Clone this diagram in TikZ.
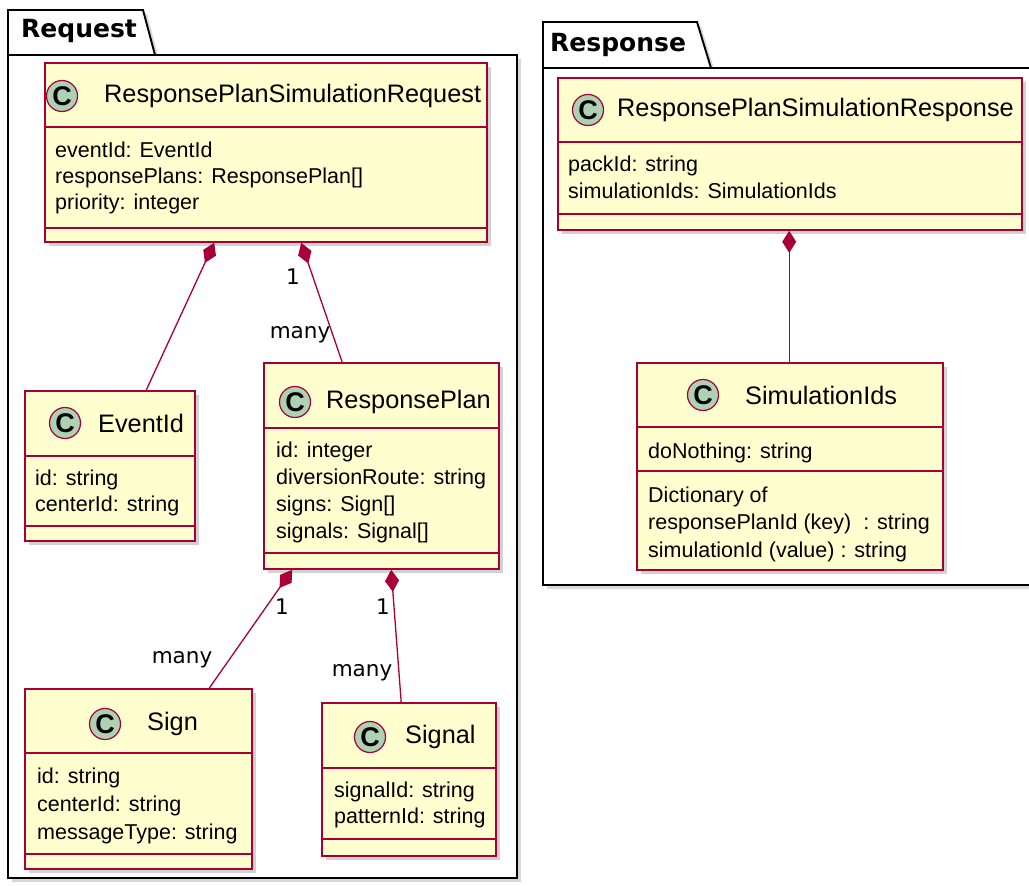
\documentclass[tikz,border=0pt]{standalone}
\usepackage{fontspec}
\setmainfont{Liberation Sans}
\newfontfamily\pkgfont{DejaVu Sans}
\usetikzlibrary{arrows.meta,shadows}

\definecolor{umlred}{HTML}{A80036}
\definecolor{umlfill}{HTML}{FEFECE}
\definecolor{umlcirc}{HTML}{ADD1B2}

\tikzset{
  pkg/.style={draw=black, line width=1.9pt, fill=white,
    drop shadow={shadow xshift=4pt, shadow yshift=-4pt, opacity=0.3, fill=gray}},
  pkglabel/.style={font=\pkgfont\fontsize{25}{25}\selectfont\bfseries, anchor=west, inner sep=0pt},
  classbox/.style={draw=umlred, line width=1.6pt, fill=umlfill, inner sep=0pt,
    drop shadow={shadow xshift=4pt, shadow yshift=-4pt, opacity=0.35, fill=gray}},
  classline/.style={draw=umlred, line width=1.4pt},
  circ/.style={circle, draw=umlred, line width=1.2pt, fill=umlcirc, minimum size=31pt,
    inner sep=0pt, font=\fontsize{27}{27}\selectfont\bfseries},
  ctitle/.style={anchor=west, inner sep=0pt, font=\fontsize{25.3}{25.3}\selectfont},
  attr/.style={anchor=west, inner sep=0pt, text height=14pt, text depth=4pt,
    font=\fontsize{21.5}{21.5}\selectfont},
  comp/.style={draw=umlred, line width=1.3pt,
    {Diamond[length=22pt,width=14pt,fill=umlred,umlred]}-},
  mult/.style={inner sep=0pt, font=\pkgfont\fontsize{21.5}{21.5}\selectfont},
}

% class box: name, x1, y1, x2, y2, first separator, second separator
\newcommand\umlclass[7]{%
  \node[classbox, minimum width={(#4-#2)*1pt}, minimum height={(#5-#3)*1pt}]
    (#1) at ({(#2+#4)/2},{(#3+#5)/2}) {};
  \draw[classline] (#2,#6) -- (#4,#6);
  \draw[classline] (#2,#7) -- (#4,#7);
}

\begin{document}
\begin{tikzpicture}[x=1pt, y=-1pt]
\useasboundingbox (0,0) rectangle (1029,886);
\clip (0,0) rectangle (1029,886);

% packages
\draw[pkg] (8,10) -- (143,10) -- (155,55) -- (517,55) -- (517,878) -- (8,878) -- cycle;
\draw[black, line width=1.9pt] (8,55) -- (155,55);
\node[pkglabel] (reqlabel) at (21,31) {Request};

\draw[pkg] (543,22) -- (697,22) -- (711,68) -- (1040,68) -- (1040,585) -- (543,585) -- cycle;
\draw[black, line width=1.9pt] (543,68) -- (711,68);
\node[pkglabel] (resplabel) at (550,45) {Response};

% ResponsePlanSimulationRequest
\umlclass{req}{45}{63}{487}{242}{127}{228}
\node[circ] (reqc) at (62,96) {C};
\node[ctitle] (reqt) at (104,96) {ResponsePlanSimulationRequest};
\node[attr] (reqa1) at (55,152) {eventId: EventId};
\node[attr] (reqa2) at (55,178) {responsePlans: ResponsePlan[]};
\node[attr] (reqa3) at (55,204) {priority: integer};

% EventId
\umlclass{evt}{25}{391}{195}{541}{456}{526}
\node[circ] (evtc) at (65,423) {C};
\node[ctitle] (evtt) at (98,423) {EventId};
\node[attr] (evta1) at (35,480) {id: string};
\node[attr] (evta2) at (35,506) {centerId: string};

% ResponsePlan
\umlclass{plan}{264}{363}{499}{569}{428}{553}
\node[circ] (planc) at (295,402) {C};
\node[ctitle] (plant) at (326,402) {ResponsePlan};
\node[attr] (plana1) at (276,452) {id: integer};
\node[attr] (plana2) at (276,479) {diversionRoute: string};
\node[attr] (plana3) at (276,506) {signs: Sign[]};
\node[attr] (plana4) at (276,533) {signals: Signal[]};

% Sign
\umlclass{sign}{25}{689}{252}{869}{753}{854}
\node[circ] (signc) at (105,724) {C};
\node[ctitle] (signt) at (147,724) {Sign};
\node[attr] (signa1) at (37,778) {id: string};
\node[attr] (signa2) at (37,806) {centerId: string};
\node[attr] (signa3) at (37,834) {messageType: string};

% Signal
\umlclass{sig}{322}{703}{496}{856}{768}{839}
\node[circ] (sigc) at (370,737) {C};
\node[ctitle] (sigt) at (405,737) {Signal};
\node[attr] (siga1) at (334,792) {signalId: string};
\node[attr] (siga2) at (334,818) {patternId: string};

% ResponsePlanSimulationResponse
\umlclass{resp}{558}{78}{1022}{230}{142}{214}
\node[circ] (respc) at (588,110) {C};
\node[ctitle] (respt) at (617,110) {ResponsePlanSimulationResponse};
\node[attr] (respa1) at (568,166) {packId: string};
\node[attr] (respa2) at (568,193) {simulationIds: SimulationIds};

% SimulationIds
\umlclass{sim}{637}{363}{943}{570}{427}{471}
\node[circ] (simc) at (703,395) {C};
\node[ctitle] (simt) at (745,395) {SimulationIds};
\node[attr] (sima1) at (648,453) {doNothing: string};
\node[attr] (simm1) at (648,497) {Dictionary of};
\node[attr] (simm2) at (648,524) {responsePlanId (key)~~: string};
\node[attr] (simm3) at (648,552) {simulationId (value) : string};

% compositions
\draw[comp] ([xshift=170pt]req.south west) -- ([xshift=122pt]evt.north west);
\draw[comp] ([xshift=257pt]req.south west) -- ([xshift=79pt]plan.north west);
\node[mult] (m1a) at (293,277) {1};
\node[mult] (m1b) at (300,335) {many};

\draw[comp] ([xshift=29pt]plan.south west) -- ([xshift=185pt]sign.north west);
\node[mult] (m2a) at (282,607) {1};
\node[mult] (m2b) at (182,660) {many};

\draw[comp] ([xshift=128pt]plan.south west) -- ([xshift=80pt]sig.north west);
\node[mult] (m3a) at (383,607) {1};
\node[mult] (m3b) at (362,673) {many};

\draw[comp] ([xshift=232pt]resp.south west) -- ([xshift=153pt]sim.north west);
\end{tikzpicture}
\end{document}
